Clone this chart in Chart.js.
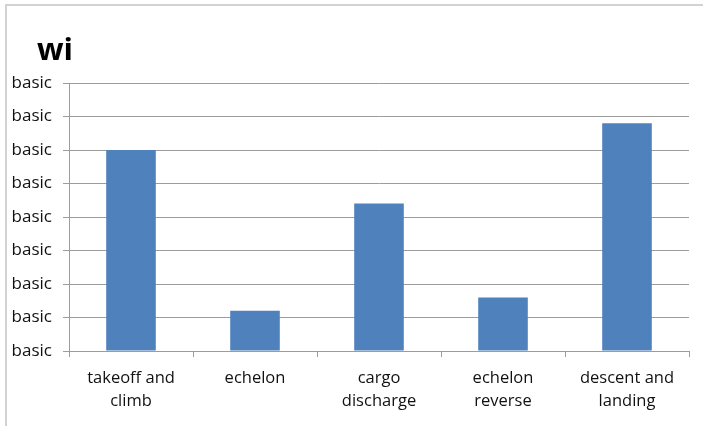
<!DOCTYPE html>
<html>
<head>
<meta charset="utf-8">
<script src="https://cdn.jsdelivr.net/npm/chart.js@4/dist/chart.umd.min.js"></script>
<style>
  html, body { margin: 0; padding: 0; background: #fff; }
  #wrap { position: relative; width: 703px; height: 426px; }
</style>
</head>
<body>
<div id="wrap"><canvas id="c" width="703" height="426"></canvas></div>
<script>
// Chart content
const chartTitle = 'wi';
const categories = [
  ['takeoff and', 'climb'],
  ['echelon'],
  ['cargo', 'discharge'],
  ['echelon', 'reverse'],
  ['descent and', 'landing']
];
const values = [6.0, 1.2, 4.4, 1.6, 6.8];
const tickLabel = 'basic';
const yMin = 0, yMax = 8, yStep = 1;

const gridGrey = '#9c9c9c';
const textColor = '#111';
const fontFamily = '"Open Sans", "Noto Sans", sans-serif';

// Light frame along the top and left edges, plus the bold heading
const framePlugin = {
  id: 'frameAndHeading',
  beforeDraw(chart) {
    const ctx = chart.ctx;
    ctx.save();
    ctx.fillStyle = '#fff';
    ctx.fillRect(0, 0, chart.width, chart.height);
    ctx.strokeStyle = '#d2d2d2';
    ctx.lineWidth = 2;
    ctx.beginPath();
    ctx.moveTo(6, chart.height);
    ctx.lineTo(6, 5);
    ctx.lineTo(chart.width, 5);
    ctx.stroke();
    ctx.restore();
  },
  afterDraw(chart) {
    const ctx = chart.ctx;
    ctx.save();
    ctx.font = 'bold 31px ' + fontFamily;
    ctx.fillStyle = '#000';
    ctx.textBaseline = 'alphabetic';
    ctx.textAlign = 'left';
    ctx.fillText(chartTitle, 37, 60);
    ctx.restore();
  }
};

new Chart(document.getElementById('c'), {
  type: 'bar',
  data: {
    labels: categories,
    datasets: [{
      data: values,
      backgroundColor: '#4f81bd',
      borderWidth: 0,
      barPercentage: 0.4,
      categoryPercentage: 1.0
    }]
  },
  options: {
    responsive: false,
    animation: false,
    devicePixelRatio: 1,
    layout: { padding: { left: 12, right: 14, top: 83, bottom: 0 } },
    plugins: {
      legend: { display: false },
      title: { display: false },
      tooltip: { enabled: false }
    },
    scales: {
      x: {
        afterFit(scale) { scale.height = 75; },
        grid: {
          display: true,
          offset: true,
          drawOnChartArea: false,
          drawTicks: true,
          tickLength: 6,
          color: gridGrey,
          lineWidth: 1
        },
        border: { display: true, color: gridGrey, width: 1 },
        ticks: {
          color: textColor,
          padding: 10,
          maxRotation: 0,
          autoSkip: false,
          font: { family: fontFamily, size: 16.5, lineHeight: 1.4 }
        }
      },
      y: {
        min: yMin,
        max: yMax,
        afterFit(scale) { scale.width = 57; },
        grid: {
          color: gridGrey,
          lineWidth: 1,
          drawTicks: true,
          tickLength: 6
        },
        border: { display: true, color: gridGrey, width: 1 },
        ticks: {
          stepSize: yStep,
          color: textColor,
          padding: 11,
          font: { family: fontFamily, size: 17 },
          callback: () => tickLabel
        }
      }
    }
  },
  plugins: [framePlugin]
});
</script>
</body>
</html>
